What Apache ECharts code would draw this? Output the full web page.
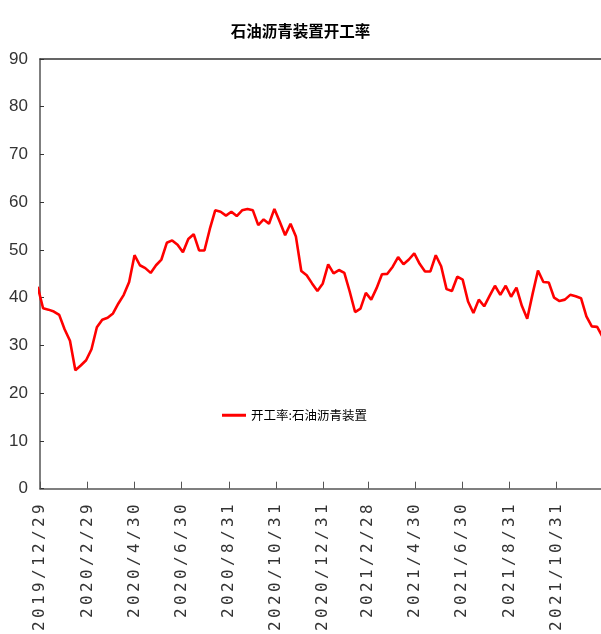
<!DOCTYPE html>
<html>
<head>
<meta charset="utf-8">
<script src="https://cdn.jsdelivr.net/npm/echarts@6/dist/echarts.min.js"></script>
<style>
  html, body { margin: 0; padding: 0; background: #fff; }
  #chart { width: 601px; height: 634px; }
</style>
</head>
<body>
<div id="chart"></div>
<script>
// Weekly operating rate of petroleum asphalt units (%), one reading per Thursday
const firstWeek = '2019-12-26';
const rateValues = [
  42.3, 37.8, 37.5, 37.1, 36.4, 33.4, 31.0, 24.8, 25.8, 26.9,
  29.2, 33.8, 35.4, 35.8, 36.7, 38.8, 40.6, 43.3, 48.9, 46.8,
  46.2, 45.2, 46.8, 48.0, 51.5, 52.0, 51.1, 49.5, 52.3, 53.3,
  49.9, 49.9, 54.4, 58.3, 58.0, 57.2, 58.0, 57.1, 58.3, 58.6,
  58.3, 55.2, 56.4, 55.5, 58.6, 55.9, 53.1, 55.5, 52.8, 45.6,
  44.7, 43.0, 41.4, 43.0, 47.0, 45.1, 45.8, 45.2, 41.3, 37.0,
  37.7, 41.0, 39.6, 42.0, 44.9, 45.0, 46.5, 48.5, 47.0, 48.0,
  49.3, 47.1, 45.5, 45.5, 48.9, 46.6, 41.8, 41.4, 44.4, 43.8,
  39.2, 36.8, 39.6, 38.2, 40.4, 42.5, 40.6, 42.5, 40.2, 42.1,
  38.3, 35.6, 40.8, 45.7, 43.3, 43.2, 40.0, 39.3, 39.6, 40.6,
  40.3, 39.9, 36.1, 34.0, 33.9, 31.8
];

// Dates shown under the horizontal axis
const tickDates = [
  '2019-12-29', '2020-02-29', '2020-04-30', '2020-06-30', '2020-08-31', '2020-10-31',
  '2020-12-31', '2021-02-28', '2021-04-30', '2021-06-30', '2021-08-31', '2021-10-31'
];
const axisStart = '2019-12-29';
const axisEnd = '2021-12-28';

const seriesName = '开工率:石油沥青装置';
const chartTitle = '石油沥青装置开工率';

const DAY = 86400000;
function parseDay(s) {
  const p = s.split('-').map(Number);
  return Date.UTC(p[0], p[1] - 1, p[2]);
}
const origin = parseDay(axisStart);
// Horizontal axis is measured in days since axisStart
function dayIndex(s) { return Math.round((parseDay(s) - origin) / DAY); }
function formatDay(n) {
  const d = new Date(origin + Math.round(n) * DAY);
  return d.getUTCFullYear() + '/' + (d.getUTCMonth() + 1) + '/' + d.getUTCDate();
}
// Spread the date characters out evenly, one fixed-width cell each
function spaced(s) {
  return s.split('').map(ch => '{c|' + ch + '}').join('');
}

const firstOffset = dayIndex(firstWeek);
const points = rateValues.map((v, i) => [firstOffset + 7 * i, v]);
const tickDays = tickDates.map(dayIndex);
const endDay = dayIndex(axisEnd);

const axisColor = '#555';
const chart = echarts.init(document.getElementById('chart'), null, { renderer: 'canvas' });
chart.setOption({
  animation: false,
  backgroundColor: '#fff',
  title: {
    text: chartTitle,
    left: 'center',
    top: 18,
    textStyle: { fontFamily: 'Noto Sans CJK SC', fontSize: 15.5, fontWeight: 'bold', color: '#000' }
  },
  legend: {
    left: 217,
    top: 404,
    icon: 'rect',
    itemWidth: 24,
    itemHeight: 3,
    itemGap: 4,
    data: [seriesName],
    textStyle: { fontFamily: 'Noto Sans CJK SC', fontSize: 12.5, color: '#000' }
  },
  grid: { left: 40, right: 0, top: 59, bottom: 144, containLabel: false },
  xAxis: [
    {
      type: 'value',
      min: 0,
      max: endDay,
      axisLine: { show: true, lineStyle: { color: axisColor, width: 1.5 } },
      axisTick: { show: true, inside: true, length: 7, customValues: tickDays, lineStyle: { color: axisColor } },
      splitLine: { show: false },
      axisLabel: {
        customValues: tickDays,
        rotate: 90,
        margin: 14,
        formatter: v => spaced(formatDay(v)),
        color: '#333',
        rich: {
          c: {
            width: 13,
            align: 'center',
            fontFamily: 'DejaVu Sans Mono',
            fontSize: 16,
            color: '#333'
          }
        }
      }
    },
    {
      // top edge of the plot frame
      type: 'value',
      position: 'top',
      min: 0,
      max: endDay,
      axisLine: { show: true, lineStyle: { color: '#333', width: 1.5 } },
      axisTick: { show: false },
      axisLabel: { show: false },
      splitLine: { show: false }
    }
  ],
  yAxis: {
    type: 'value',
    min: 0,
    max: 90,
    interval: 10,
    axisLine: { show: true, lineStyle: { color: axisColor, width: 1.5 } },
    axisTick: { show: true, inside: true, length: 4, lineStyle: { color: '#333' } },
    splitLine: { show: false },
    axisLabel: {
      margin: 12,
      fontFamily: 'Liberation Sans Narrow, Liberation Sans',
      fontSize: 17,
      color: '#333'
    }
  },
  series: [
    {
      name: seriesName,
      type: 'line',
      xAxisIndex: 0,
      data: points,
      showSymbol: false,
      symbol: 'none',
      clip: true,
      lineStyle: { color: '#ff0000', width: 2.6 },
      itemStyle: { color: '#ff0000' }
    }
  ]
});
</script>
</body>
</html>
